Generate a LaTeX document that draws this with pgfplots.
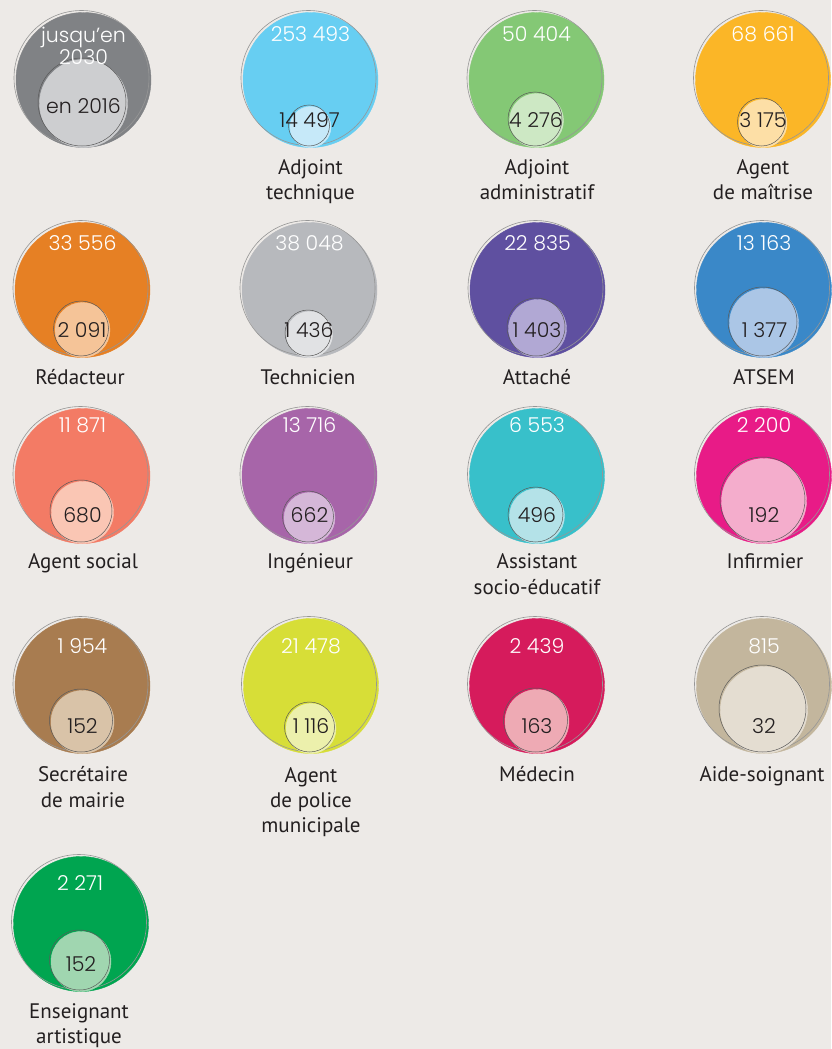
\documentclass[border=0pt]{standalone}
\usepackage{pgfplots}
\pgfplotsset{compat=1.18}
\usepackage{pgfplotstable}
\usepackage{fontspec}
\setmainfont{PT Sans}
\newfontfamily\numf{Poppins Light}
\definecolor{bgc}{RGB}{237,234,231}
\definecolor{txt}{RGB}{35,31,32}
\definecolor{ringc}{RGB}{150,150,150}
\definecolor{iringc}{RGB}{90,90,90}
% colours of the large discs
\definecolor{b0}{RGB}{128,130,133}
\definecolor{b1}{RGB}{103,206,242}
\definecolor{b2}{RGB}{132,200,117}
\definecolor{b3}{RGB}{251,182,39}
\definecolor{b4}{RGB}{230,128,36}
\definecolor{b5}{RGB}{183,185,189}
\definecolor{b6}{RGB}{95,80,160}
\definecolor{b7}{RGB}{58,136,200}
\definecolor{b8}{RGB}{243,123,101}
\definecolor{b9}{RGB}{167,101,169}
\definecolor{b10}{RGB}{56,192,202}
\definecolor{b11}{RGB}{232,27,135}
\definecolor{b12}{RGB}{168,124,80}
\definecolor{b13}{RGB}{215,222,55}
\definecolor{b14}{RGB}{214,27,92}
\definecolor{b15}{RGB}{195,182,157}
\definecolor{b16}{RGB}{0,165,80}
% colours of the small discs
\definecolor{i0}{RGB}{205,206,208}
\definecolor{i1}{RGB}{198,233,249}
\definecolor{i2}{RGB}{205,232,196}
\definecolor{i3}{RGB}{253,223,166}
\definecolor{i4}{RGB}{245,196,152}
\definecolor{i5}{RGB}{225,226,228}
\definecolor{i6}{RGB}{177,168,212}
\definecolor{i7}{RGB}{171,198,230}
\definecolor{i8}{RGB}{250,198,180}
\definecolor{i9}{RGB}{213,183,216}
\definecolor{i10}{RGB}{180,226,232}
\definecolor{i11}{RGB}{244,173,204}
\definecolor{i12}{RGB}{217,195,168}
\definecolor{i13}{RGB}{236,240,172}
\definecolor{i14}{RGB}{238,170,180}
\definecolor{i15}{RGB}{228,221,209}
\definecolor{i16}{RGB}{160,214,176}
% id, centre of the large disc (image pixels, y downwards), large radius R, small radius r
\pgfplotstableread[col sep=comma]{
id,x,y,R,r
0,83.5,80,67.5,44
1,310.5,80,67.5,20.5
2,536.5,80,67.5,27
3,763,80,67.5,24
4,82.5,290,67.5,27.5
5,309.5,290,67.5,23
6,537.5,290,67.5,29
7,764,290,67.5,34.5
8,82.5,476,67.5,31
9,309.5,476,67.5,25.5
10,537,476,67.5,27.5
11,764,476,67.5,42.5
12,82.5,686,67.5,31.5
13,311,686,67.5,25
14,537,686,67.5,32
15,764,686,67.5,43.5
16,81,924,67.5,30
}\bub
\pgfplotstableread[col sep=comma]{
x,y,t
83.5,43,jusqu’en
83.5,64,2030
310.5,42,253 493
536.5,42,50 404
763,42,68 661
82.5,250,33 556
309.5,250,38 048
537.5,250,22 835
764,250,13 163
82.5,432,11 871
309.5,432,13 716
537,432,6 553
764,432,2 200
82.5,653,1 954
311,653,21 478
537,653,2 439
764,653,815
80,890,2 271
}\topnum
\pgfplotstableread[col sep=comma]{
x,y,t
83.5,113,en 2016
309.5,127,14 497
536,127,4 276
763,127,3 175
82,337,2 091
309,337,1 436
537,337,1 403
764.5,337,1 377
82.5,522,680
309.5,522,662
537,522,496
764,522,192
82.5,733,152
311,733,1 116
537,733,163
764,733,32
81,971,152
}\innum
\pgfplotstableread[col sep=comma]{
x,y,t
310.5,174,Adjoint
310.5,199,technique
537,174,Adjoint
537,199,administratif
763,174,Agent
763,199,de maîtrise
80,384,Rédacteur
308,384,Technicien
537,384,Attaché
764,384,ATSEM
83,568,Agent social
310,568,Ingénieur
537,568,Assistant
537,594,socio-éducatif
765,568,Infirmier
83,781,Secrétaire
83,807,de mairie
311,782,Agent
311,807,de police
311,832,municipale
537,781,Médecin
762,781,Aide-soignant
79,1018,Enseignant
79,1043,artistique
}\labs
\begin{document}
\begin{tikzpicture}
\begin{axis}[
 scale only axis, width=831pt, height=1049pt,
 xmin=0, xmax=831, ymin=0, ymax=1049, y dir=reverse,
 axis line style={draw=none}, ticks=none,
 axis background/.style={fill=bgc},
]
% large discs
\addplot[scatter, only marks, mark=*,
 visualization depends on={\thisrow{R} \as \rad},
 visualization depends on={\thisrow{id} \as \idx},
 scatter/@pre marker code/.append style={/tikz/mark size=\rad pt},
 scatter/@pre marker code/.append code={\pgfmathtruncatemacro\bidx{\idx}\pgfsetfillcolor{b\bidx}\pgfsetstrokecolor{b\bidx}}]
 table[x=x, y=y] {\bub};
% outline rings of the large discs
\addplot[scatter, only marks, mark=o, line width=0.6pt,
 visualization depends on={\thisrow{R} \as \rad},
 scatter/use mapped color={draw=ringc},
 scatter/@pre marker code/.append style={/tikz/mark size=\rad pt}]
 table[x expr=\thisrow{x}-2, y expr=\thisrow{y}-2] {\bub};
% small discs
\addplot[scatter, only marks, mark=*,
 visualization depends on={\thisrow{r} \as \rad},
 visualization depends on={\thisrow{id} \as \idx},
 scatter/@pre marker code/.append style={/tikz/mark size=\rad pt},
 scatter/@pre marker code/.append code={\pgfmathtruncatemacro\bidx{\idx}\pgfsetfillcolor{i\bidx}\pgfsetstrokecolor{i\bidx}}]
 table[x=x, y expr=\thisrow{y}+\thisrow{R}-\thisrow{r}] {\bub};
\addplot[scatter, only marks, mark=o, line width=0.5pt,
 visualization depends on={\thisrow{r} \as \rad},
 scatter/use mapped color={draw=iringc},
 scatter/@pre marker code/.append style={/tikz/mark size=\rad pt}]
 table[x expr=\thisrow{x}-1.5, y expr=\thisrow{y}+\thisrow{R}-\thisrow{r}-1.5] {\bub};
% texts
\addplot[draw=none, mark=none, point meta=explicit symbolic, nodes near coords,
 every node near coord/.append style={anchor=base, inner sep=0pt, text=white, font=\numf\fontsize{20.5}{24}\selectfont}]
 table[x=x, y=y, meta=t] {\topnum};
\addplot[draw=none, mark=none, point meta=explicit symbolic, nodes near coords,
 every node near coord/.append style={anchor=base, inner sep=0pt, text=txt, font=\numf\fontsize{20.5}{24}\selectfont}]
 table[x=x, y=y, meta=t] {\innum};
\addplot[draw=none, mark=none, point meta=explicit symbolic, nodes near coords,
 every node near coord/.append style={anchor=base, inner sep=0pt, text=txt, font=\fontsize{21}{25}\selectfont}]
 table[x=x, y=y, meta=t] {\labs};
\end{axis}
\end{tikzpicture}
\end{document}
